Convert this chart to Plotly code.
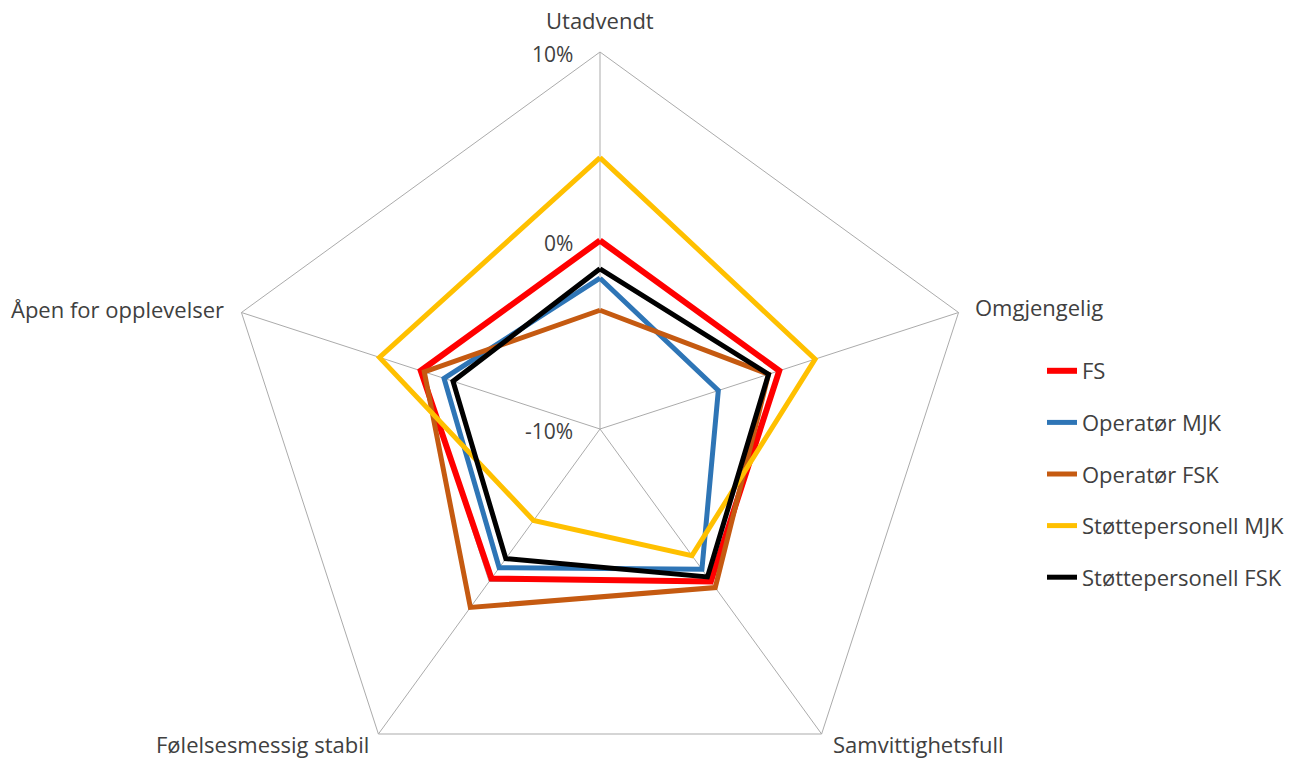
import math
import plotly.graph_objects as go

# Five personality dimensions and the deviation (%) of each group
categories = ["Utadvendt", "Omgjengelig", "Samvittighetsfull",
              "Følelsesmessig stabil", "Åpen for opplevelser"]

fs = [0.0, 0.0, 0.0, -0.2, 0.0]
operator_mjk = [-2.0, -3.4, -0.8, -0.9, -1.3]
operator_fsk = [-3.7, -0.6, 0.4, 1.7, -0.2]
stotte_mjk = [4.4, 2.0, -1.7, -4.0, 2.3]
stotte_fsk = [-1.5, -0.6, -0.3, -1.5, -1.8]

series_names = ["FS", "Operatør MJK", "Operatør FSK",
                "Støttepersonell MJK", "Støttepersonell FSK"]
series_values = [fs, operator_mjk, operator_fsk, stotte_mjk, stotte_fsk]

radial_ticks = [-10, 0, 10]
radial_tick_labels = ["-10%", "0%", "10%"]

# Styling
colors = ["#FF0000", "#2E75B6", "#C55A11", "#FFC000", "#000000"]
widths = [6, 5, 5, 5, 5]
grid_color = "#ABABAB"
text_color = "#404040"
font_family = "Open Sans"
font_size = 22
tick_font_size = 21

W, H = 1311, 760
cx, cy, R = 600, 429, 377          # web centre and outer radius, px
r_min, r_max = radial_ticks[0], radial_ticks[-1]

# Radar projection: first axis points up, the rest follow clockwise
n = len(categories)
angles = [math.radians(90 - 360 * k / n) for k in range(n)]


def to_xy(values):
    """Map radial values onto the web (unit radius = r_max)."""
    xs, ys = [], []
    for v, a in zip(values, angles):
        rn = (v - r_min) / (r_max - r_min)
        xs.append(rn * math.cos(a))
        ys.append(rn * math.sin(a))
    return xs + [xs[0]], ys + [ys[0]]


fig = go.Figure()

# Web rings at each radial tick
for t in radial_ticks:
    if t == r_min:
        continue
    gx, gy = to_xy([t] * n)
    fig.add_trace(go.Scatter(x=gx, y=gy, mode="lines",
                             line=dict(color=grid_color, width=1),
                             hoverinfo="skip", showlegend=False))

# Spokes
sx, sy = [], []
ox, oy = to_xy([r_max] * n)
for k in range(n):
    sx += [0, ox[k], None]
    sy += [0, oy[k], None]
fig.add_trace(go.Scatter(x=sx, y=sy, mode="lines",
                         line=dict(color=grid_color, width=1),
                         hoverinfo="skip", showlegend=False))

# Group profiles
for name, vals, col, w in zip(series_names, series_values, colors, widths):
    px_, py_ = to_xy(vals)
    fig.add_trace(go.Scatter(
        x=px_, y=py_, mode="lines", name=name, legendgroup=name,
        line=dict(color=col, width=w),
        hovertemplate=name + ": %{text}<extra></extra>",
        text=[f"{v:.1f}%" for v in vals + [vals[0]]],
    ))

# Category labels around the web
label_font = dict(family=font_family, size=font_size, color=text_color)
tick_font = dict(family=font_family, size=tick_font_size, color=text_color)
annotations = []
for k, (cat, a) in enumerate(zip(categories, angles)):
    c, s = math.cos(a), math.sin(a)
    if abs(c) < 1e-6:
        xanchor, xshift, yshift = "center", 0, 32
    elif c > 0:
        xanchor = "left"
        xshift, yshift = (14, 6) if s > 0 else (9, -10)
    else:
        xanchor = "right"
        xshift, yshift = (-15, 4) if s > 0 else (-7, -10)
    annotations.append(dict(x=ox[k], y=oy[k], xref="x", yref="y", text=cat,
                            showarrow=False, xanchor=xanchor, yanchor="middle",
                            xshift=xshift, yshift=yshift, font=label_font))

# Radial tick labels along the first axis
for t, lab in zip(radial_ticks, radial_tick_labels):
    rn = (t - r_min) / (r_max - r_min)
    annotations.append(dict(x=0, y=rn, xref="x", yref="y", text=lab,
                            showarrow=False, xanchor="right", yanchor="middle",
                            xshift=-25, yshift=-2, font=tick_font))

fig.update_layout(
    width=W, height=H,
    margin=dict(l=0, r=0, t=0, b=0),
    paper_bgcolor="white",
    plot_bgcolor="white",
    font=dict(family=font_family, size=font_size, color=text_color),
    xaxis=dict(range=[-cx / R, (W - cx) / R], visible=False, fixedrange=True),
    yaxis=dict(range=[-(H - cy) / R, cy / R], visible=False, fixedrange=True),
    annotations=annotations,
    showlegend=True,
    legend=dict(
        x=1042 / W, xanchor="left",
        y=1 - 350 / H, yanchor="top",
        font=label_font,
        tracegroupgap=20,
        bgcolor="rgba(0,0,0,0)",
    ),
)

fig.write_html("out.html")
